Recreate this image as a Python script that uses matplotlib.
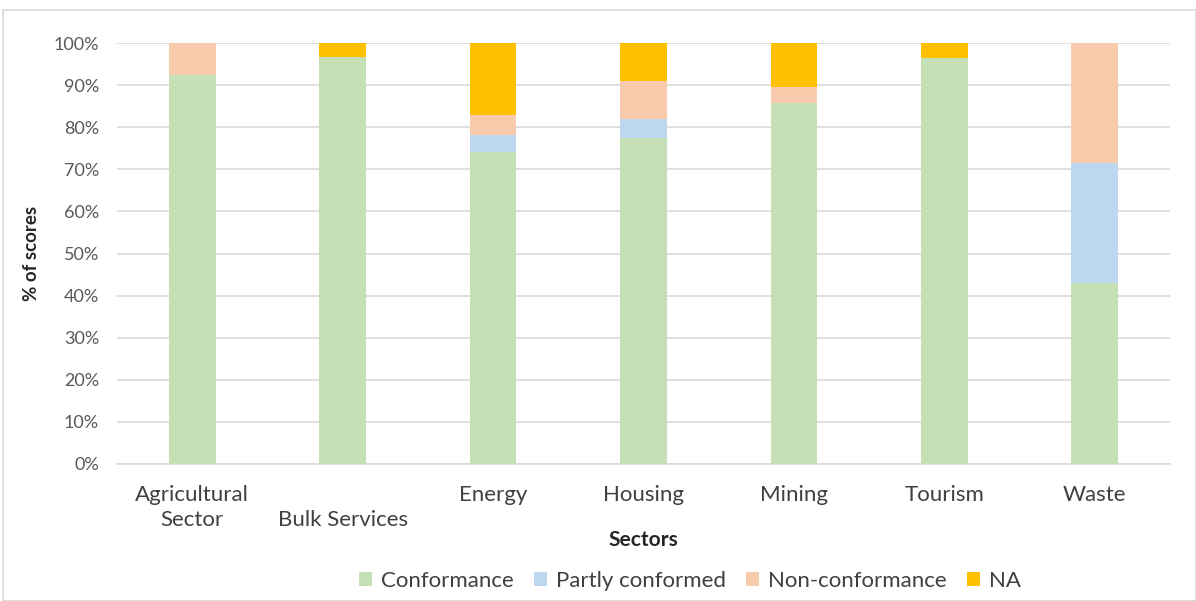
import numpy as np
import matplotlib
matplotlib.use("Agg")
import matplotlib.pyplot as plt
from matplotlib.patches import Rectangle

plt.rcParams['font.family'] = ['Lato', 'DejaVu Sans']

sectors = ["Agricultural\nSector", "\nBulk Services", "Energy", "Housing",
           "Mining", "Tourism", "Waste"]
conformance = [92.4, 96.6, 74.1, 77.5, 85.7, 96.4, 42.9]
partly = [0.0, 0.0, 4.1, 4.5, 0.0, 0.0, 28.6]
non_conf = [7.6, 0.0, 4.6, 9.0, 3.8, 0.0, 28.5]
na = [0.0, 3.4, 17.2, 9.0, 10.5, 3.6, 0.0]

series = [("Conformance", conformance, "#C5E0B4"),
          ("Partly conformed", partly, "#BDD7EE"),
          ("Non-conformance", non_conf, "#F8CBAD"),
          ("NA", na, "#FFC000")]

fig = plt.figure(figsize=(11.96, 6.01), dpi=100)
ax = fig.add_axes([117 / 1196, 1 - 464 / 601, 1053 / 1196, 421 / 601])

x = np.arange(len(sectors))
bottom = np.zeros(len(sectors))
for name, vals, col in series:
    vals = np.array(vals)
    ax.bar(x, vals, 0.31, bottom=bottom, color=col, label=name, zorder=3)
    bottom += vals

ax.set_xlim(-0.5, len(sectors) - 0.5)
ax.set_ylim(0, 100)
ax.set_yticks(np.arange(0, 101, 10))
ax.set_yticklabels([f"{v}%" for v in range(0, 101, 10)])
ax.yaxis.grid(True, color="#D9D9D9", lw=1.2, zorder=0)
ax.set_xticks(x)
ax.set_xticklabels(sectors, fontsize=16, color="#404040", linespacing=1.3)
ax.tick_params(axis="y", labelsize=13, colors="#595959", length=0, pad=13)
ax.tick_params(axis="x", length=0, pad=15)
for s in ["top", "right", "left"]:
    ax.spines[s].set_visible(False)
ax.spines["bottom"].set_color("#D9D9D9")
ax.spines["bottom"].set_linewidth(1.2)

ax.set_xlabel("Sectors", fontsize=15, fontweight="bold", color="#262626", labelpad=0)
ax.set_ylabel("% of scores", fontsize=13.5, fontweight="bold", color="#262626", labelpad=10)

fig.legend(loc="center", bbox_to_anchor=(690 / 1196, 1 - 581 / 601), ncol=4,
           frameon=False, fontsize=16, handlelength=0.6, handleheight=0.6,
           handletextpad=0.4, columnspacing=0.9, labelcolor="#404040")

fig.patches.append(Rectangle((3 / 1196, 0), 1 - 3 / 1196, 1 - 10 / 601,
                             transform=fig.transFigure, fill=False,
                             edgecolor="#D9D9D9", lw=1.2))

fig.savefig("out.png", dpi=100)
